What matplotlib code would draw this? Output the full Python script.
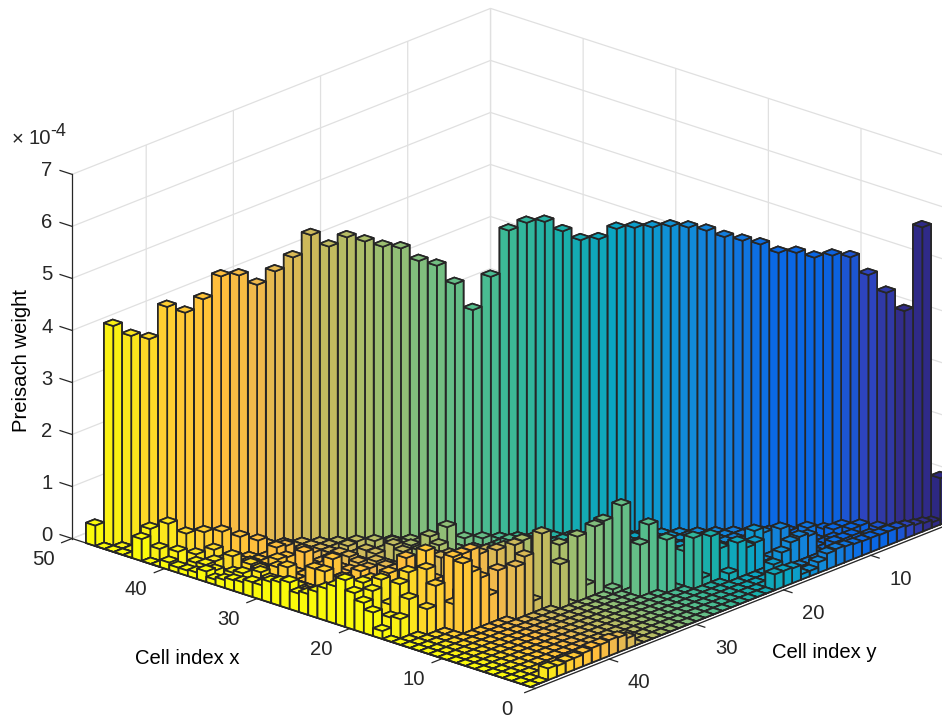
# Preisach weight distribution, bar3 style view
import numpy as np
import matplotlib
matplotlib.use("Agg")
import matplotlib.pyplot as plt
from matplotlib.colors import LinearSegmentedColormap
from mpl_toolkits.mplot3d import proj3d

plt.rcParams["font.family"] = ["Liberation Sans", "DejaVu Sans"]

# --- Data (weights in units of 1e-4) ---

# main diagonal, cell 1 to cell 48
DIAGONAL = [0.89, 5.72, 4.12, 4.48, 4.83, 5.18, 5.22, 5.19, 5.29, 5.30,
            5.47, 5.55, 5.63, 5.76, 5.83, 5.86, 5.85, 5.85, 5.84, 5.65,
            5.64, 5.82, 6.01, 6.00, 5.86, 4.98, 4.35, 4.86, 5.22, 5.32,
            5.57, 5.61, 5.72, 5.81, 5.64, 5.87, 5.45, 5.19, 4.94, 5.13,
            5.12, 4.69, 4.44, 4.56, 3.95, 4.02, 4.22, 0.39]

# row y = 48
ROW48_X = [43, 40, 39, 38, 37, 36, 35, 34, 33, 32, 31, 30, 29, 28, 27, 26,
           25, 24, 23, 22, 21, 20, 19, 18, 17]
ROW48_H = [0.42, 0.14, 0.10, 0.10, 0.12, 0.20, 0.10, 0.15, 0.20, 0.22, 0.28,
           0.28, 0.40, 0.45, 0.51, 0.35, 0.40, 0.50, 0.62, 0.72, 0.90, 0.71,
           0.58, 0.45, 0.15]

# column x = 1
COL1_Y = [46, 45, 44, 43, 42, 41, 40, 39, 38, 37, 20, 19, 18, 17, 16, 15, 14,
          13, 12, 11, 10, 9, 8, 7, 6, 5, 4, 3, 2]
COL1_H = [0.22, 0.20, 0.22, 0.22, 0.25, 0.28, 0.28, 0.30, 0.28, 0.20, 0.30,
          0.30, 0.28, 0.10, 0.10, 0.20, 0.30, 0.32, 0.30, 0.28, 0.27, 0.27,
          0.26, 0.26, 0.25, 0.22, 0.18, 0.15, 0.10]

# remaining raised cells as (x, y, weight)
BAND_CELLS = [
    (43, 47, 0.55), (42, 46, 0.64), (42, 47, 0.22), (40, 47, 0.28), (41, 45, 0.44),
    (40, 44, 0.46), (39, 43, 0.46), (38, 42, 0.35), (37, 41, 0.27), (38, 45, 0.30),
    (39, 46, 0.22), (35, 40, 0.21), (33, 40, 0.17), (33, 43, 0.27), (34, 45, 0.25),
    (36, 45, 0.29), (32, 46, 0.28), (31, 44, 0.30), (29, 43, 0.32), (34, 47, 0.22),
    (37, 46, 0.20), (38, 47, 0.18), (33, 39, 0.13), (31, 38, 0.16), (30, 36, 0.15),
    (28, 35, 0.30), (27, 35, 0.23), (26, 33, 0.45), (26, 31, 0.50), (25, 33, 0.34),
    (23, 36, 0.47), (21, 36, 0.59), (22, 40, 0.41), (20, 39, 0.37), (21, 37, 0.60),
    (17, 36, 0.90), (17, 34, 0.83), (16, 33, 0.95), (25, 42, 0.44), (25, 44, 0.43),
    (27, 44, 0.45), (28, 42, 0.50), (21, 45, 0.71), (21, 41, 0.86),
    (15, 43, 0.14), (14, 43, 0.51), (14, 42, 0.67), (13, 43, 1.35), (13, 42, 1.12),
    (13, 41, 0.94), (13, 40, 0.54), (13, 39, 0.95), (15, 44, 0.87), (15, 45, 0.49),
    (16, 44, 1.13), (16, 46, 0.69), (17, 46, 0.92), (17, 47, 0.34), (18, 46, 0.47),
    (19, 47, 0.74), (20, 47, 0.84), (19, 46, 0.89), (17, 45, 1.08), (17, 43, 1.36),
    (15, 42, 1.29), (15, 41, 1.28), (15, 40, 1.29), (15, 39, 1.15), (15, 37, 1.09),
    (14, 36, 1.18), (12, 35, 1.45), (12, 36, 0.22), (12, 37, 1.14), (12, 38, 1.01),
    (11, 30, 1.31), (11, 29, 1.35), (10, 28, 1.64), (11, 31, 0.25), (12, 33, 1.10),
    (11, 32, 1.25), (11, 34, 0.85), (10, 29, 0.09),
    (8, 27, 1.32), (8, 28, 1.00), (7, 26, 1.02), (7, 24, 0.67), (6, 24, 0.98),
    (6, 23, 0.14), (6, 22, 0.88), (6, 21, 0.58), (5, 21, 0.15), (5, 20, 0.68),
    (5, 19, 0.52), (5, 18, 0.55), (3, 18, 0.24), (6, 17, 0.65), (4, 16, 0.28),
    (4, 15, 0.41), (4, 14, 0.45), (4, 13, 0.40), (6, 14, 0.49), (5, 12, 0.43),
    (7, 15, 0.42), (4, 10, 0.15), (3, 11, 0.20), (3, 10, 0.20), (3, 9, 0.20),
    (2, 8, 0.20), (6, 11, 0.20), (6, 9, 0.15), (5, 9, 0.20), (5, 8, 0.20),
    (4, 8, 0.20), (4, 7, 0.20), (3, 6, 0.15), (2, 4, 0.10),
    # low cells filling the band between the wall and the tall bars
    (37, 47, 0.20), (36, 47, 0.15), (33, 47, 0.27), (37, 45, 0.14), (35, 44, 0.16),
    (33, 45, 0.21), (32, 47, 0.15), (31, 46, 0.20), (32, 44, 0.24), (33, 42, 0.24),
    (32, 41, 0.33), (35, 41, 0.25), (30, 41, 0.16), (30, 40, 0.25), (29, 41, 0.15),
    (28, 46, 0.23), (30, 45, 0.14), (27, 46, 0.19), (27, 42, 0.18),
    (32, 35, 0.14), (31, 34, 0.14), (30, 33, 0.11), (29, 32, 0.13), (28, 33, 0.16),
    (27, 31, 0.09), (26, 29, 0.15), (25, 28, 0.14), (23, 27, 0.15), (32, 36, 0.12),
    (30, 38, 0.16), (29, 36, 0.14), (27, 33, 0.12), (22, 31, 0.17), (20, 31, 0.20),
    (29, 38, 0.10), (28, 37, 0.12), (26, 35, 0.10), (26, 38, 0.20), (24, 36, 0.19),
    (28, 40, 0.14), (27, 39, 0.17), (25, 38, 0.19), (24, 38, 0.20), (24, 40, 0.23),
    (26, 41, 0.20), (27, 41, 0.12), (20, 43, 0.51), (18, 43, 0.63), (18, 41, 0.62),
    (17, 44, 0.57), (17, 42, 0.63), (16, 38, 0.54), (16, 39, 0.55), (20, 46, 0.64),
    (16, 47, 0.37), (21, 43, 0.70),
]

X_TICKS = [0, 10, 20, 30, 40, 50]
Y_TICKS = [10, 20, 30, 40]
Z_TICKS = [0, 1, 2, 3, 4, 5, 6, 7]

# colour of each y cell, (cell index, r, g, b)
COLOR_STOPS = [(1, 45, 40, 130), (3, 50, 45, 140), (5, 45, 70, 195), (7, 10, 100, 225),
               (10, 10, 105, 230), (13, 20, 125, 220), (16, 15, 145, 215),
               (19, 10, 165, 195), (22, 25, 175, 170), (25, 60, 185, 150),
               (27, 85, 190, 140), (30, 130, 190, 125), (33, 170, 190, 105),
               (36, 205, 185, 90), (39, 240, 185, 75), (41, 255, 190, 60),
               (44, 255, 205, 50), (47, 250, 240, 20), (48, 250, 250, 10)]

N = len(DIAGONAL)
DARK = (0.15, 0.15, 0.15)
W, H = 942, 720


def build_weights():
    z = {}
    for x in range(1, N + 1):
        for y in range(x, N + 1):
            z[(x, y)] = 0.0
    for k, val in enumerate(DIAGONAL, start=1):
        z[(k, k)] = val
    for x, val in zip(ROW48_X, ROW48_H):
        z[(x, 48)] = val
    for y, val in zip(COL1_Y, COL1_H):
        z[(1, y)] = val
    for x, y, val in BAND_CELLS:
        z[(x, y)] = val
    return z


def style_axis(axis, ticks):
    axis.set_ticks(ticks)
    axis.set_ticklabels([])
    axis.set_pane_color((1, 1, 1, 0))
    axis.pane.set_edgecolor((1, 1, 1, 0))
    axis.line.set_color((1, 1, 1, 0))
    axis.label.set_visible(False)
    axis._axinfo["grid"].update(color=(0.88, 0.88, 0.88), linewidth=0.9)
    axis._axinfo["tick"].update(inward_factor=0, outward_factor=0)
    for tick in axis.get_major_ticks():
        tick.label1.set_visible(False)


def tick_label(x, y, z, label):
    # project the 3d anchor so the label is a plain figure text
    ax.apply_aspect()
    xp, yp, _ = proj3d.proj_transform(x, y, z, ax.get_proj())
    px, py = ax.transData.transform((xp, yp))
    fig.text(px / W, py / H, label, fontsize=14.6, color=DARK, ha="center", va="center")


fig = plt.figure(figsize=(W / 100, H / 100), dpi=100, facecolor="white")
size = 936.8
ax = fig.add_axes([31.8 / W, -109.5 / H, size / W, size / H],
                  projection="3d", computed_zorder=False)
ax.set_proj_type("ortho")
ax.set_box_aspect((624, 624, 390))
ax.view_init(elev=21.0, azim=132.1)
ax.set_xlim(0, 50)
ax.set_ylim(0.5, 48.5)
ax.set_zlim(0, 7)
style_axis(ax.xaxis, X_TICKS)
style_axis(ax.yaxis, [0.5] + Y_TICKS)
style_axis(ax.zaxis, Z_TICKS)

cmap = LinearSegmentedColormap.from_list(
    "bars", [((s[0] - 1) / (N - 1), (s[1] / 255, s[2] / 255, s[3] / 255)) for s in COLOR_STOPS])

# back to front, the viewer sits at low x and high y
weights = build_weights()
order = sorted(weights, key=lambda c: (c[1] - c[0], c[1]))
for i, (x, y) in enumerate(order):
    ax.bar3d(x - 0.5, y - 0.5, 0, 1, 1, weights[(x, y)], color=cmap((y - 1) / (N - 1)),
             edgecolor=DARK, linewidth=1.25, shade=False, zorder=10 + i)

# axis lines and ticks
top = 10 + len(order)
line_kw = dict(color=DARK, linewidth=0.9, zorder=top)
ax.plot([0, 50], [48.5, 48.5], [0, 0], **line_kw)
ax.plot([0, 0], [0.5, 48.5], [0, 0], **line_kw)
ax.plot([50, 50], [48.5, 48.5], [0, 7], **line_kw)

for t in X_TICKS:
    ax.plot([t, t], [48.5, 49.7], [0, 0], **line_kw)
    tick_label(t, 48.5 + 3.3, -0.18, str(t))
for t in Y_TICKS:
    ax.plot([0, -0.9], [t, t], [0, 0], **line_kw)
    tick_label(-3.2, t, -0.27, str(t))
for t in Z_TICKS:
    ax.plot([50, 51.3], [48.5, 48.5], [t, t], **line_kw)
    tick_label(50 + 2.7, 48.5, t - 0.09, str(t))

# axis titles
label_kw = dict(fontsize=14.6, color="black", ha="center", va="center")
fig.text(187 / W, 1 - 659 / H, "Cell index x", **label_kw)
fig.text(824 / W, 1 - 653 / H, "Cell index y", **label_kw)
fig.text(22 / W, 1 - 360 / H, "Preisach weight", rotation=90, **label_kw)
fig.text(12 / W, 1 - 140 / H, "\u00d7", fontsize=14.6, color=DARK, ha="left", va="center")
fig.text(28 / W, 1 - 138 / H, "10", fontsize=14.6, color=DARK, ha="left", va="center")
fig.text(50 / W, 1 - 132 / H, "-4", fontsize=13, color=DARK, ha="left", va="center")

fig.savefig("out.png", dpi=100, facecolor="white")
